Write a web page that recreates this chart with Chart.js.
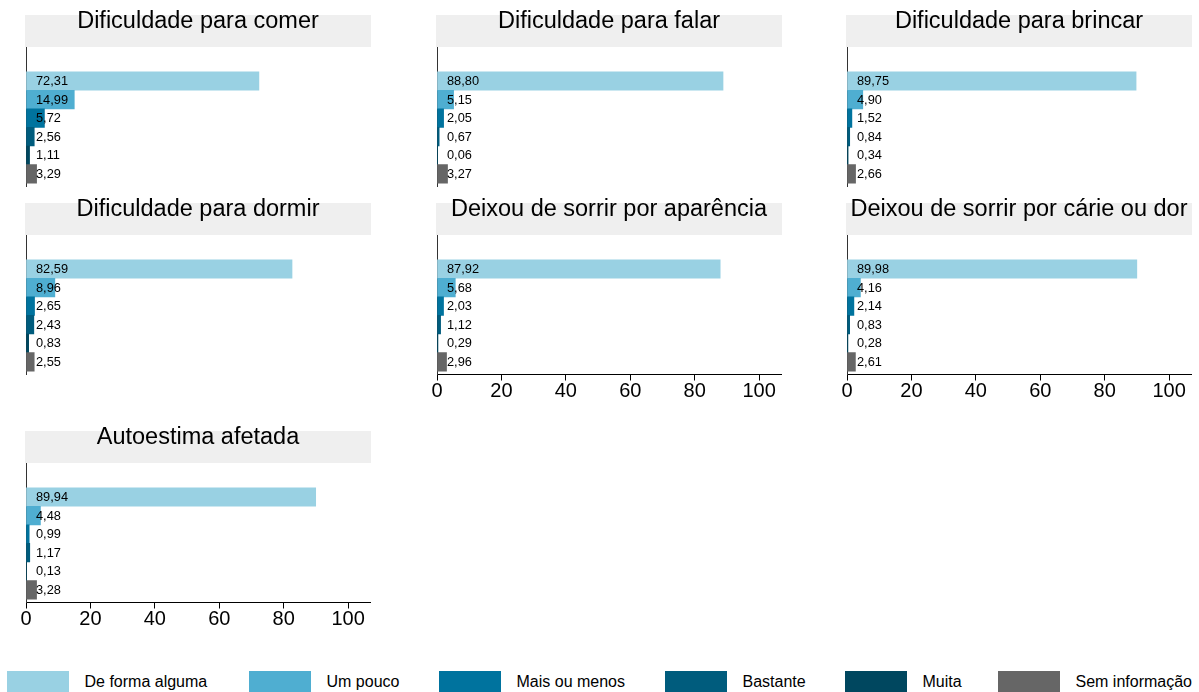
<!DOCTYPE html>
<html>
<head>
<meta charset="utf-8">
<script src="https://cdn.jsdelivr.net/npm/chart.js@4"></script>
<style>
  html, body { margin: 0; padding: 0; background: #fff; overflow: hidden; width: 1199px; height: 692px; }
  canvas { position: absolute; }
  .lg-sw { position: absolute; width: 62px; height: 21px; }
  .lg-tx { position: absolute; font-family: "Liberation Sans", Arial, sans-serif; font-size: 16px; color: #000; line-height: 21px; white-space: nowrap; }
</style>
</head>
<body>
<script>
// ---- data ----
const categories = ['De forma alguma', 'Um pouco', 'Mais ou menos', 'Bastante', 'Muita', 'Sem informação'];
const panelTitles = ['Dificuldade para comer', 'Dificuldade para falar', 'Dificuldade para brincar',
  'Dificuldade para dormir', 'Deixou de sorrir por aparência', 'Deixou de sorrir por cárie ou dor',
  'Autoestima afetada'];
const comer     = [72.31, 14.99, 5.72, 2.56, 1.11, 3.29];
const falar     = [88.80, 5.15, 2.05, 0.67, 0.06, 3.27];
const brincar   = [89.75, 4.90, 1.52, 0.84, 0.34, 2.66];
const dormir    = [82.59, 8.96, 2.65, 2.43, 0.83, 2.55];
const aparencia = [87.92, 5.68, 2.03, 1.12, 0.29, 2.96];
const carieDor  = [89.98, 4.16, 2.14, 0.83, 0.28, 2.61];
const autoestima= [89.94, 4.48, 0.99, 1.17, 0.13, 3.28];
const xTicks = [0, 20, 40, 60, 80, 100];

// ---- styles / layout ----
const colors = ['#99d1e3', '#4faed1', '#00739e', '#005c7d', '#00475f', '#666666'];
const FONT = '"Liberation Sans", Arial, sans-serif';
const seriesByPanel = [comer, falar, brincar, dormir, aparencia, carieDor, autoestima];
const panelCol = [0, 1, 2, 0, 1, 2, 0];
const panelRow = [0, 0, 0, 1, 1, 1, 2];
const panelAxis = [false, false, false, false, true, true, true];
const colLeft = [0, 411, 821];
const rowTop = [0, 188, 416];
const legendLeft = [7, 249, 439, 665, 845, 998];
const Y_MIN = -1.83, Y_MAX = 5.68;

const bandPlugin = {
  id: 'band',
  beforeDraw(chart) {
    const a = chart.chartArea, ctx = chart.ctx;
    ctx.save();
    ctx.fillStyle = '#efefef';
    ctx.fillRect(a.left - 1, a.top - 32, a.right - a.left + 2, 32);
    ctx.restore();
  }
};
const labelPlugin = {
  id: 'vlabels',
  afterDatasetsDraw(chart) {
    const ctx = chart.ctx, xs = chart.scales.x;
    const meta = chart.getDatasetMeta(0);
    const vals = chart.data.datasets[0].data;
    ctx.save();
    ctx.font = '12.8px ' + FONT;
    ctx.fillStyle = '#000';
    ctx.textBaseline = 'middle';
    ctx.textAlign = 'left';
    meta.data.forEach((bar, i) => {
      const v = vals[i].x;
      ctx.fillText(v.toFixed(2).replace('.', ','), xs.getPixelForValue(0) + 10, bar.y + 0.5);
    });
    ctx.restore();
  }
};

seriesByPanel.forEach((values, p) => {
  const cv = document.createElement('canvas');
  cv.width = 396; cv.height = 231;
  cv.style.left = colLeft[panelCol[p]] + 'px';
  cv.style.top = rowTop[panelRow[p]] + 'px';
  cv.style.width = '396px'; cv.style.height = '231px';
  document.body.appendChild(cv);
  const show = panelAxis[p];
  new Chart(cv, {
    type: 'bar',
    data: {
      labels: categories,
      datasets: [{
        label: panelTitles[p],
        data: values.map((v, i) => ({ x: v, y: i })),
        backgroundColor: colors,
        borderWidth: 0,
        barPercentage: 1,
        categoryPercentage: 1
      }]
    },
    options: {
      indexAxis: 'y',
      responsive: false,
      animation: false,
      devicePixelRatio: 1,
      layout: { padding: { left: 26, right: 26, top: 0, bottom: 0 } },
      plugins: {
        legend: { display: false },
        tooltip: { enabled: false },
        title: {
          display: true, text: panelTitles[p], color: '#000',
          font: { family: FONT, size: 23.5, weight: 'normal', lineHeight: '28px' },
          padding: { top: 8, bottom: 11 }
        }
      },
      scales: {
        x: {
          type: 'linear', position: 'bottom', min: 0, max: 106.8, offset: false,
          afterFit: s => { s.height = 44.5; },
          afterBuildTicks: s => { s.ticks = xTicks.map(v => ({ value: v })); },
          grid: { display: true, drawOnChartArea: false, drawTicks: true, tickLength: 6,
                  color: show ? '#000' : 'rgba(0,0,0,0)', lineWidth: 1 },
          border: { display: show, color: '#000', width: 1 },
          ticks: { display: true, color: show ? '#000' : 'rgba(0,0,0,0)',
                   font: { family: FONT, size: 20, lineHeight: 1 }, padding: 1,
                   maxRotation: 0, autoSkip: false }
        },
        y: {
          type: 'linear', reverse: true, min: Y_MIN, max: Y_MAX,
          offset: false, bounds: 'data', grace: 0,
          afterDataLimits: s => { s.min = Y_MIN; s.max = Y_MAX; },
          afterBuildTicks: s => { s.ticks = categories.map((c, i) => ({ value: i })); },
          afterFit: s => { s.width = 0; },
          grid: { display: false, offset: false },
          border: { display: true, color: '#333', width: 1 },
          ticks: { display: false }
        }
      }
    },
    plugins: [bandPlugin, labelPlugin]
  });
});

// ---- legend ----
categories.forEach((c, i) => {
  const sw = document.createElement('div');
  sw.className = 'lg-sw';
  sw.style.left = legendLeft[i] + 'px';
  sw.style.top = '671px';
  sw.style.background = colors[i];
  document.body.appendChild(sw);
  const tx = document.createElement('div');
  tx.className = 'lg-tx';
  tx.style.left = (legendLeft[i] + 77.5) + 'px';
  tx.style.top = '671px';
  tx.textContent = c;
  document.body.appendChild(tx);
});
</script>
</body>
</html>
